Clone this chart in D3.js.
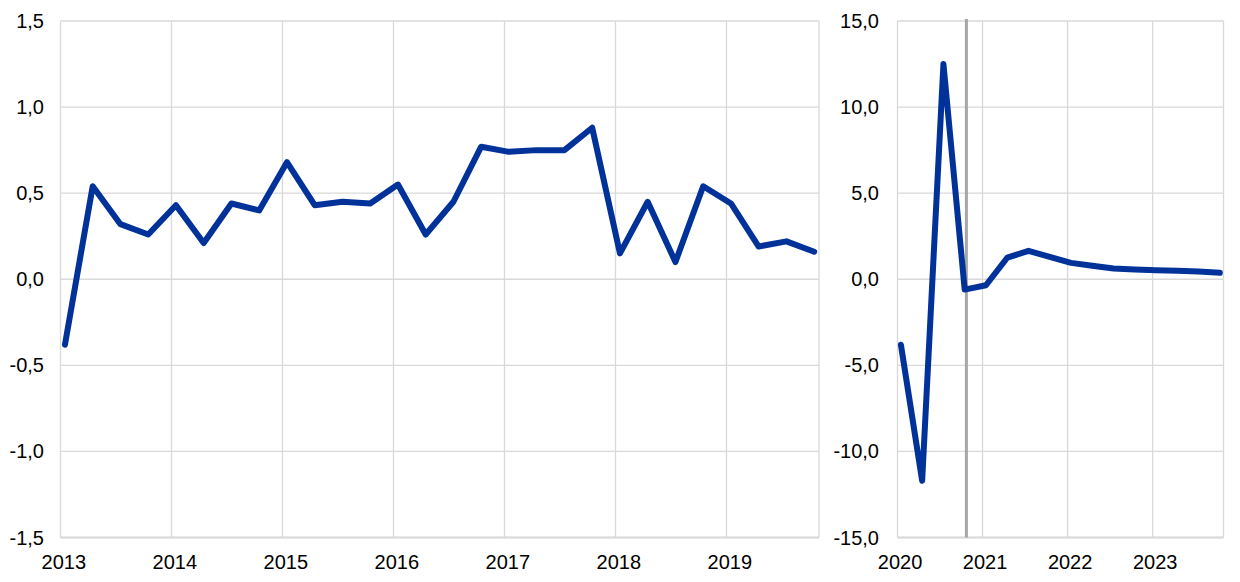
<!DOCTYPE html>
<html>
<head>
<meta charset="utf-8">
<script src="https://cdn.jsdelivr.net/npm/d3@7"></script>
<style>
  html, body { margin: 0; padding: 0; background: #fff; }
  svg { display: block; }
  text { font-family: "Liberation Sans", Arial, sans-serif; font-size: 20px; fill: #000; }
</style>
</head>
<body>
<svg id="chart" width="1240" height="582"></svg>
<script>
// ---------- DATA ----------
const leftYears = [2013, 2014, 2015, 2016, 2017, 2018, 2019];
const leftQuarters = [
  "2013Q1","2013Q2","2013Q3","2013Q4","2014Q1","2014Q2","2014Q3","2014Q4",
  "2015Q1","2015Q2","2015Q3","2015Q4","2016Q1","2016Q2","2016Q3","2016Q4",
  "2017Q1","2017Q2","2017Q3","2017Q4","2018Q1","2018Q2","2018Q3","2018Q4",
  "2019Q1","2019Q2","2019Q3","2019Q4"
];
const leftValues = [
  -0.38, 0.54, 0.32, 0.26, 0.43, 0.21, 0.44, 0.40,
   0.68, 0.43, 0.45, 0.44, 0.55, 0.26, 0.45, 0.77,
   0.74, 0.75, 0.75, 0.88, 0.15, 0.45, 0.10, 0.54,
   0.44, 0.19, 0.22, 0.16
];
const leftTicks = [-1.5, -1.0, -0.5, 0.0, 0.5, 1.0, 1.5];

const rightYears = [2020, 2021, 2022, 2023];
const rightQuarters = [
  "2020Q1","2020Q2","2020Q3","2020Q4","2021Q1","2021Q2","2021Q3","2021Q4",
  "2022Q1","2022Q2","2022Q3","2022Q4","2023Q1","2023Q2","2023Q3","2023Q4"
];
const rightValues = [
  -3.8, -11.7, 12.5, -0.6, -0.35, 1.25, 1.65, 1.3,
   0.95, 0.78, 0.62, 0.56, 0.52, 0.50, 0.45, 0.38
];
const rightTicks = [-15, -10, -5, 0, 5, 10, 15];
const projectionStart = 2020.81; // vertical marker between actuals and projections

// ---------- HELPERS ----------
const fmt = v => d3.format(".1f")(v).replace(".", ",").replace("−", "-");
const qPos = q => +q.slice(0, 4) + (+q.slice(5) - 1) / 4 + 0.04;

const svg = d3.select("#chart");
const gridColor = "#d9d9d9";
const lineColor = "#003299";

function panel(opts) {
  const x = d3.scaleLinear().domain(opts.xDomain).range(opts.xRange);
  const y = d3.scaleLinear().domain(opts.yDomain).range([537.5, 21]);
  const g = svg.append("g");

  g.selectAll("line.h").data(opts.ticks).join("line")
    .attr("x1", opts.xRange[0]).attr("x2", opts.xRange[1])
    .attr("y1", d => y(d)).attr("y2", d => y(d))
    .attr("stroke", gridColor).attr("stroke-width", 1.3);

  g.selectAll("line.v").data(opts.years).join("line")
    .attr("x1", d => x(d)).attr("x2", d => x(d))
    .attr("y1", y(opts.yDomain[1])).attr("y2", y(opts.yDomain[0]))
    .attr("stroke", gridColor).attr("stroke-width", 1.3);

  g.append("line")
    .attr("x1", opts.xRange[1]).attr("x2", opts.xRange[1])
    .attr("y1", y(opts.yDomain[1])).attr("y2", y(opts.yDomain[0]))
    .attr("stroke", gridColor).attr("stroke-width", 1.3);
  g.append("line")
    .attr("x1", opts.xRange[0]).attr("x2", opts.xRange[1])
    .attr("y1", y(opts.yDomain[0])).attr("y2", y(opts.yDomain[0]))
    .attr("stroke", gridColor).attr("stroke-width", 2);

  g.selectAll("text.y").data(opts.ticks).join("text")
    .attr("x", opts.yLabelX).attr("y", d => y(d)).attr("dy", "0.35em")
    .attr("text-anchor", "end").text(d => fmt(d));

  g.selectAll("text.x").data(opts.years).join("text")
    .attr("x", d => x(d + 0.03)).attr("y", 569)
    .attr("text-anchor", "middle").text(d => d);

  if (opts.marker !== undefined) {
    g.append("line")
      .attr("x1", x(opts.marker)).attr("x2", x(opts.marker))
      .attr("y1", 19).attr("y2", y(opts.yDomain[0]))
      .attr("stroke", "#a6a6a6").attr("stroke-width", 3);
  }

  const data = opts.quarters.map((q, i) => ({ t: qPos(q), v: opts.values[i] }));
  g.append("path").datum(data)
    .attr("fill", "none").attr("stroke", lineColor).attr("stroke-width", 6)
    .attr("stroke-linejoin", "round").attr("stroke-linecap", "round")
    .attr("d", d3.line().x(d => x(d.t)).y(d => y(d.v)));
}

panel({
  xDomain: [2013, 2019 + 10 / 12], xRange: [60.5, 819],
  yDomain: [-1.5, 1.5], ticks: leftTicks, years: leftYears,
  quarters: leftQuarters, values: leftValues, yLabelX: 44
});
panel({
  xDomain: [2020, 2023 + 10 / 12], xRange: [897.5, 1223.5],
  yDomain: [-15, 15], ticks: rightTicks, years: rightYears,
  quarters: rightQuarters, values: rightValues, yLabelX: 879,
  marker: projectionStart
});
</script>
</body>
</html>
